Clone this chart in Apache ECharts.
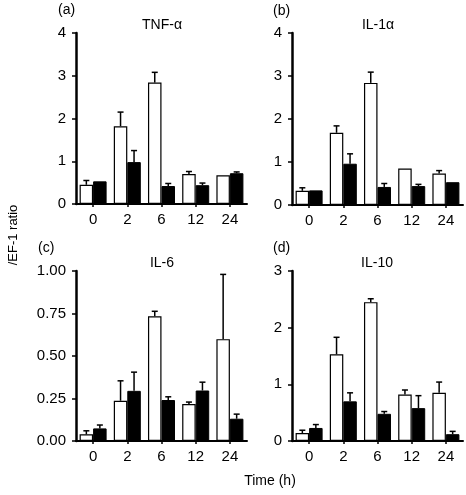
<!DOCTYPE html>
<html>
<head>
<meta charset="utf-8">
<script src="https://cdn.jsdelivr.net/npm/echarts@6/dist/echarts.min.js"></script>
<style>
html,body{margin:0;padding:0;background:#fff;}
#c{width:466px;height:495px;}
</style>
</head>
<body>
<div id="c"></div>
<script>
const categories = ['0', '2', '6', '12', '24'];

const tnfWhite = [0.45, 1.82, 2.84, 0.70, 0.67];
const tnfWhiteErr = [0.10, 0.33, 0.24, 0.06, 0];
const tnfBlack = [0.53, 0.98, 0.42, 0.44, 0.72];
const tnfBlackErr = [0, 0.27, 0.06, 0.05, 0.03];

const il1White = [0.33, 1.68, 2.84, 0.85, 0.73];
const il1WhiteErr = [0.07, 0.16, 0.25, 0, 0.07];
const il1Black = [0.34, 0.96, 0.42, 0.44, 0.53];
const il1BlackErr = [0, 0.23, 0.08, 0.04, 0];

const il6White = [0.039, 0.237, 0.734, 0.217, 0.599];
const il6WhiteErr = [0.021, 0.117, 0.029, 0.012, 0.381];
const il6Black = [0.074, 0.295, 0.241, 0.297, 0.131];
const il6BlackErr = [0.020, 0.110, 0.019, 0.049, 0.027];

const il10White = [0.14, 1.53, 2.45, 0.82, 0.85];
const il10WhiteErr = [0.05, 0.30, 0.06, 0.08, 0.19];
const il10Black = [0.23, 0.70, 0.48, 0.58, 0.12];
const il10BlackErr = [0.06, 0.15, 0.04, 0.22, 0.05];

const panelTitles = ['TNF-α', 'IL-1α', 'IL-6', 'IL-10'];
const panelLetters = ['(a)', '(b)', '(c)', '(d)'];
const yMax = [4, 4, 1, 3];
const yInterval = [1, 1, 0.25, 1];

const panels = [
  [tnfWhite, tnfWhiteErr, tnfBlack, tnfBlackErr],
  [il1White, il1WhiteErr, il1Black, il1BlackErr],
  [il6White, il6WhiteErr, il6Black, il6BlackErr],
  [il10White, il10WhiteErr, il10Black, il10BlackErr]
];

const FONT = 'Liberation Sans, Arial, sans-serif';
const GAP = 0.21;
const grids = [
  {left: 76, top: 33, width: 171, height: 171},
  {left: 292, top: 33, width: 171, height: 172},
  {left: 76, top: 271, width: 171, height: 170},
  {left: 292, top: 271, width: 171, height: 170}
];

function errRender(side) {
  return function (params, api) {
    const err = api.value(2);
    if (!err || err <= 0) return null;
    const idx = api.value(0);
    const v = api.value(1);
    const band = api.size([1, 0])[0];
    const bw = band * (1 - GAP) / 2;
    const base = api.coord([idx, v]);
    const top = api.coord([idx, v + err]);
    const x = base[0] + side * bw / 2;
    const cap = 3;
    return {
      type: 'group',
      children: [
        {type: 'line', shape: {x1: x, y1: base[1], x2: x, y2: top[1]}, style: {stroke: '#000', lineWidth: 1.5}},
        {type: 'line', shape: {x1: x - cap, y1: top[1], x2: x + cap, y2: top[1]}, style: {stroke: '#000', lineWidth: 1.5}}
      ]
    };
  };
}

const xAxes = [], yAxes = [], series = [];
grids.forEach((g, i) => {
  xAxes.push({
    type: 'category', gridIndex: i, data: categories,
    axisLine: {show: true, lineStyle: {color: '#000', width: 2}},
    axisTick: {show: true, alignWithLabel: true, length: 3, lineStyle: {color: '#000', width: 1.5}},
    axisLabel: {color: '#000', fontSize: 15, fontFamily: FONT, margin: 8},
    splitLine: {show: false}
  });
  yAxes.push({
    type: 'value', gridIndex: i, min: 0, max: yMax[i], interval: yInterval[i],
    axisLine: {show: true, lineStyle: {color: '#000', width: 2.5}},
    axisTick: {show: true, length: 4, lineStyle: {color: '#000', width: 1.5}},
    axisLabel: {color: '#000', fontSize: 15, fontFamily: FONT, margin: 10,
      formatter: i === 2 ? (v => v.toFixed(2)) : (v => String(v))},
    splitLine: {show: false}
  });
  const [w, we, b, be] = panels[i];
  series.push({
    type: 'bar', xAxisIndex: i, yAxisIndex: i, data: w,
    barGap: '0%', barCategoryGap: (GAP * 100) + '%',
    itemStyle: {color: '#fff', borderColor: '#000', borderWidth: 1.2},
    animation: false, z: 2
  });
  series.push({
    type: 'bar', xAxisIndex: i, yAxisIndex: i, data: b,
    barGap: '0%', barCategoryGap: (GAP * 100) + '%',
    itemStyle: {color: '#000', borderColor: '#000', borderWidth: 1},
    animation: false, z: 2
  });
  series.push({
    type: 'custom', xAxisIndex: i, yAxisIndex: i,
    data: w.map((v, k) => [k, v, we[k]]),
    renderItem: errRender(-1), animation: false, z: 3, silent: true
  });
  series.push({
    type: 'custom', xAxisIndex: i, yAxisIndex: i,
    data: b.map((v, k) => [k, v, be[k]]),
    renderItem: errRender(1), animation: false, z: 3, silent: true
  });
});

const textStyle = {fill: '#000', fontSize: 14, fontFamily: FONT};
const letterPos = [[58, 11], [273, 12], [38, 249], [273, 249]];
const titlePos = [[162, 25], [378, 25], [162, 263], [377, 263]];
const graphic = [];
panelLetters.forEach((t, i) => {
  graphic.push({type: 'text', left: letterPos[i][0], top: letterPos[i][1] - 8,
    style: Object.assign({text: t}, textStyle)});
});
panelTitles.forEach((t, i) => {
  graphic.push({type: 'text', x: titlePos[i][0], y: titlePos[i][1],
    style: Object.assign({text: t, align: 'center', verticalAlign: 'middle'}, textStyle)});
});
graphic.push({type: 'text', x: 270, y: 481,
  style: Object.assign({text: 'Time (h)', align: 'center', verticalAlign: 'middle'}, textStyle)});
graphic.push({type: 'text', x: 13, y: 235, rotation: Math.PI / 2,
  style: Object.assign({text: '/EF-1 ratio', align: 'center', verticalAlign: 'middle'}, textStyle, {fontSize: 13})});

const chart = echarts.init(document.getElementById('c'), null, {renderer: 'canvas'});
chart.setOption({
  animation: false,
  backgroundColor: '#fff',
  grid: grids.map(g => Object.assign({containLabel: false}, g)),
  xAxis: xAxes,
  yAxis: yAxes,
  series: series,
  graphic: graphic
});
</script>
</body>
</html>
